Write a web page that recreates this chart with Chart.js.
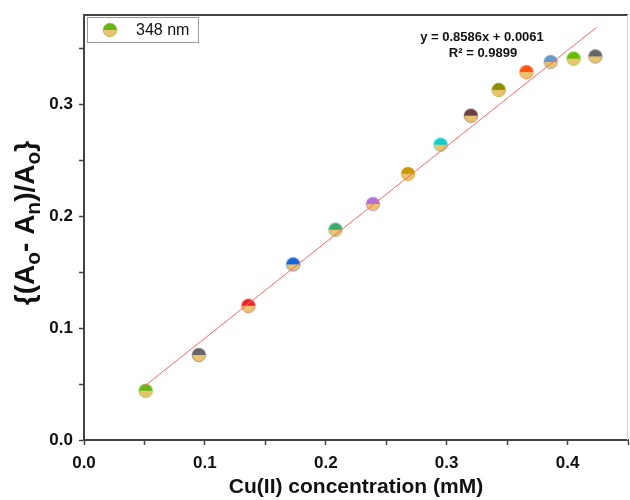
<!DOCTYPE html>
<html>
<head>
<meta charset="utf-8">
<script src="https://cdn.jsdelivr.net/npm/chart.js@4.4.1/dist/chart.umd.min.js"></script>
<style>
  html, body { margin: 0; padding: 0; background: #fff; }
  #wrap { width: 630px; height: 500px; }
</style>
</head>
<body>
<div id="wrap"><canvas id="chart" width="630" height="500"></canvas></div>
<script>
// Cu(II) concentration, mM
const concentration = [0.051, 0.095, 0.136, 0.173, 0.208, 0.239, 0.268, 0.295, 0.320, 0.343, 0.366, 0.386, 0.405, 0.423];
// {(Ao - An)/Ao} at 348 nm
const response = [0.044, 0.076, 0.120, 0.157, 0.188, 0.211, 0.238, 0.264, 0.290, 0.313, 0.329, 0.338, 0.341, 0.343];
// top half colour of every marker
const markerColors = ['#6AB417', '#666666', '#E8262A', '#1565D8', '#3BAA6A', '#B070D8', '#CC9900',
                      '#14CCCC', '#6B4040', '#8F8F00', '#FF5511', '#6699CC', '#66BB00', '#666666'];
// linear fit, ends of the drawn line
const fitX = [0.051, 0.424];
const fitY = [0.049, 0.369];
const xTicks = [0, 0.1, 0.2, 0.3, 0.4];
const yTicks = [0, 0.1, 0.2, 0.3];
const legendLabel = '348 nm';
const equation = 'y = 0.8586x + 0.0061';
const rSquared = 'R\u00B2 = 0.9899';

const FONT = "'Liberation Sans', Arial, sans-serif";
const AXIS = '#444444';

// marker: coloured upper half, pale gold lower half
function halfMarker(color) {
    const c = document.createElement('canvas');
    c.width = 16; c.height = 16;
    const g = c.getContext('2d');
    g.beginPath(); g.arc(8, 8, 6.8, Math.PI, 0); g.closePath();
    g.fillStyle = color; g.fill();
    g.beginPath(); g.arc(8, 8, 6.8, 0, Math.PI); g.closePath();
    g.fillStyle = '#E9C46E'; g.fill();
    g.beginPath(); g.arc(8, 8, 6.8, 0, Math.PI * 2);
    g.globalAlpha = 0.55; g.lineWidth = 1; g.strokeStyle = color; g.stroke();
    return c;
}
const markers = markerColors.map(halfMarker);

function isLabelled(list, v) {
    return list.some(t => Math.abs(t - v) < 1e-6);
}

// frame, legend, fit text and y title
const decorations = {
    id: 'decorations',
    afterDraw(chart) {
        const ctx = chart.ctx;
        const a = chart.chartArea;
        ctx.save();
        // top and right frame
        ctx.strokeStyle = AXIS; ctx.lineWidth = 2;
        ctx.beginPath(); ctx.moveTo(a.left - 1, a.top); ctx.lineTo(a.right, a.top); ctx.stroke();
        ctx.strokeStyle = '#d4d4d4'; ctx.lineWidth = 1;
        ctx.beginPath(); ctx.moveTo(a.right - 0.5, a.top); ctx.lineTo(a.right - 0.5, a.bottom); ctx.stroke();

        // legend box
        ctx.strokeStyle = '#9a9a9a'; ctx.lineWidth = 1;
        ctx.strokeRect(87.5, 17.5, 111, 25);
        ctx.drawImage(markers[0], 102, 22);
        ctx.fillStyle = '#111'; ctx.font = '16px ' + FONT;
        ctx.textBaseline = 'middle'; ctx.textAlign = 'left';
        ctx.fillText(legendLabel, 136, 30.5);

        // fit equation
        ctx.font = 'bold 13px ' + FONT;
        ctx.textAlign = 'center'; ctx.textBaseline = 'alphabetic';
        ctx.fillText(equation, 482, 41);
        ctx.fillText(rSquared, 483, 57);

        // y title with subscripts
        const big = 'bold 28px ' + FONT, small = 'bold 21px ' + FONT;
        const parts = [['{(A', big, 0], ['o', small, 8], ['- A', big, 0], ['n', small, 8],
                       [')/A', big, 0], ['o', small, 8], ['}', big, 0]];
        let total = 0;
        parts.forEach(p => { ctx.font = p[1]; total += ctx.measureText(p[0]).width; });
        ctx.translate(26, 223);
        ctx.rotate(-Math.PI / 2);
        ctx.textAlign = 'left'; ctx.textBaseline = 'middle';
        let x = -total / 2;
        parts.forEach(p => {
            ctx.font = p[1];
            ctx.fillText(p[0], x, p[2]);
            x += ctx.measureText(p[0]).width;
        });
        ctx.restore();
    }
};

new Chart(document.getElementById('chart'), {
    type: 'scatter',
    data: {
        datasets: [
            {
                label: 'fit',
                data: fitX.map((x, i) => ({ x: x, y: fitY[i] })),
                showLine: true,
                borderColor: '#FF6666',
                borderWidth: 1,
                pointRadius: 0
            },
            {
                label: legendLabel,
                data: concentration.map((x, i) => ({ x: x, y: response[i] })),
                pointStyle: markers,
                pointRadius: 7
            }
        ]
    },
    options: {
        responsive: false,
        animation: false,
        layout: { autoPadding: false, padding: { top: 15, right: 2, left: 0, bottom: 0 } },
        plugins: { legend: { display: false }, tooltip: { enabled: false } },
        scales: {
            x: {
                type: 'linear',
                min: 0,
                max: 0.45,
                afterFit: s => { s.height = 60; s.paddingLeft = 0; s.paddingRight = 0; },
                border: { color: AXIS, width: 2 },
                grid: { drawOnChartArea: false, drawTicks: true, tickLength: 5, color: AXIS, tickWidth: 1.5 },
                ticks: {
                    stepSize: 0.05,
                    autoSkip: false,
                    maxRotation: 0,
                    includeBounds: false,
                    padding: 8,
                    color: '#111',
                    font: { family: FONT, size: 17, weight: 'bold' },
                    callback: v => isLabelled(xTicks, v) ? v.toFixed(1) : ''
                },
                title: {
                    display: true,
                    text: 'Cu(II) concentration (mM)',
                    color: '#111',
                    font: { family: FONT, size: 21, weight: 'bold' },
                    padding: { top: 0, bottom: 0 }
                }
            },
            y: {
                type: 'linear',
                min: 0,
                max: 0.38,
                afterFit: s => { s.width = 84; s.paddingTop = 0; s.paddingBottom = 0; },
                border: { color: AXIS, width: 2 },
                grid: { drawOnChartArea: false, drawTicks: true, tickLength: 5, color: AXIS, tickWidth: 1.5 },
                ticks: {
                    stepSize: 0.05,
                    autoSkip: false,
                    includeBounds: false,
                    padding: 6,
                    color: '#111',
                    font: { family: FONT, size: 17, weight: 'bold' },
                    callback: v => isLabelled(yTicks, v) ? v.toFixed(1) : ''
                }
            }
        }
    },
    plugins: [decorations]
});
</script>
</body>
</html>
